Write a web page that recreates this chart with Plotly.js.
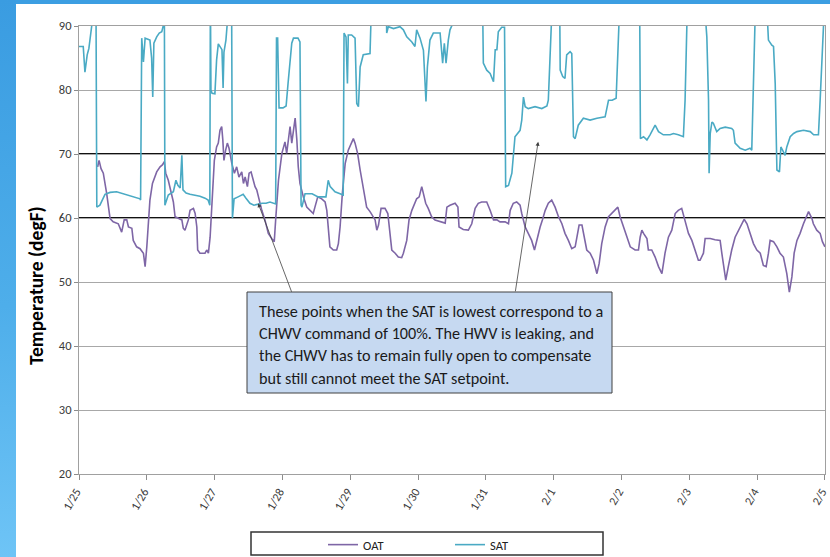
<!DOCTYPE html>
<html>
<head>
<meta charset="utf-8">
<script src="https://cdn.plot.ly/plotly-3.0.1.min.js"></script>
<style>
  html, body { margin:0; padding:0; width:830px; height:557px; overflow:hidden; background:#ffffff; }
  #topband { position:absolute; left:0; top:0; width:830px; height:4px; background:#3c9ee2; }
  #leftband { position:absolute; left:0; top:0; width:16px; height:557px; background:linear-gradient(to bottom, #3a9ce1 0%, #4eaeea 55%, #6ec4f6 100%); }
  #chart { position:absolute; left:16px; top:4px; width:814px; height:553px; }
</style>
</head>
<body>
<div id="topband"></div>
<div id="leftband"></div>
<div id="chart"></div>
<script>
// ---- data (hours since 1/25 00:00, temperature degF) ----
const tickLabels = ['1/25','1/26','1/27','1/28','1/29','1/30','1/31','2/1','2/2','2/3','2/4','2/5'];
const seriesNames = ['OAT', 'SAT'];

const oatHours = [6.6,7.1,7.8,8.6,9.8,10.4,11.0,12.1,13.9,15.1,16.0,16.9,17.5,18.7,19.2,20.4,21.6,22.8,23.4,24.0,
24.5,25.1,26.0,27.5,28.7,29.5,30.2,30.7,31.6,32.8,33.4,34.0,35.2,36.4,36.9,37.5,38.7,39.3,40.5,41.1,
41.7,42.0,42.8,44.6,45.2,45.8,46.4,47.0,47.9,48.7,49.3,49.9,50.5,50.9,51.3,51.9,52.5,53.1,53.6,54.1,
55.0,55.8,56.6,57.6,58.2,58.8,59.6,60.2,60.9,61.4,62.3,62.9,63.7,64.7,65.8,66.8,67.0,
68.2,69.1,69.6,70.6,71.8,72.9,73.5,74.3,74.7,75.3,75.9,76.5,77.1,77.6,78.2,79.4,80.6,81.8,82.9,83.5,
84.5,85.9,87.1,87.7,88.2,88.8,90.0,91.2,91.8,92.4,93.2,94.2,95.3,96.5,97.1,97.7,98.6,99.5,100.6,101.8,
103.0,104.2,104.8,105.4,106.0,106.9,108.3,109.3,110.1,110.7,111.9,113.0,114.2,114.8,116.0,116.8,117.8,118.7,119.5,120.4,
121.3,121.9,122.7,123.6,124.8,126.0,127.8,129.6,130.2,131.3,133.1,134.1,
134.5,136.0,137.8,139.0,140.2,141.3,142.5,144.3,145.5,146.7,147.9,149.0,150.8,152.0,152.6,153.7,154.9,156.1,156.7,157.9,
159.0,160.2,161.2,162.0,163.2,164.0,165.0,166.1,167.3,168.5,169.7,170.9,172.0,173.2,174.4,175.6,176.5,177.0,178.0,178.9,
179.7,180.9,182.1,183.3,184.1,185.0,186.2,187.4,188.6,189.7,190.7,191.5,192.7,193.9,195.1,196.8,198.0,198.6,199.2,
199.8,201.0,201.5,202.7,203.9,205.1,206.3,207.4,208.6,209.8,211.0,212.1,213.3,214.5,215.7,216.9,218.1,219.2,219.8,221.0,
221.6,223.4,225.1,226.9,227.5,228.3,228.9,229.8,231.0,232.2,234.0,235.4,236.4,237.5,238.7,239.9,241.1,242.2,243.2,244.0,
244.6,245.8,247.0,248.1,249.3,250.5,251.4,252.3,253.1,254.1,255.2,256.4,257.6,258.2,259.4,259.9,261.1,262.3,263.1,264.0];

const oatTemps = [68.0,69.0,67.7,67.0,63.8,61.7,59.9,59.4,59.1,57.8,59.7,59.7,58.6,58.4,56.5,55.5,55.2,54.5,52.4,55.5,
58.6,62.8,65.4,67.2,68.0,68.3,68.8,67.0,65.9,63.8,62.5,60.2,59.9,59.7,58.4,58.1,59.7,61.2,61.5,60.7,
58.6,55.0,54.5,54.5,55.0,54.5,57.0,61.7,69.0,71.1,71.7,73.7,74.3,72.2,69.0,70.6,71.7,70.9,69.6,68.5,
67.0,68.0,66.4,67.2,65.4,66.4,64.9,67.0,67.2,66.4,64.9,64.4,62.8,61.2,59.7,58.1,57.6,
56.8,56.3,59.7,65.9,70.1,71.9,70.1,73.0,74.3,71.7,73.7,75.6,72.2,68.0,65.4,63.3,61.7,61.2,60.7,61.7,
63.3,63.0,62.5,61.2,58.6,55.5,55.0,55.0,56.0,58.6,63.8,68.5,70.6,71.9,72.4,71.7,70.1,67.5,64.4,61.7,
61.0,60.2,59.7,58.1,58.9,61.5,61.5,60.7,57.0,55.0,54.5,53.9,53.8,54.5,56.5,59.7,61.2,62.3,63.0,63.3,
64.9,63.8,62.3,61.5,60.2,59.7,59.4,59.2,61.7,62.0,62.3,61.7,
58.6,58.2,58.1,59.1,61.5,62.3,62.5,62.5,61.2,59.7,59.7,59.4,59.4,59.1,61.2,62.3,62.5,62.0,60.7,58.6,
57.6,56.5,55.0,56.5,58.6,59.7,61.2,62.3,62.8,61.7,60.2,59.1,57.6,56.5,55.2,55.5,58.1,58.9,58.9,57.0,
55.0,54.5,53.4,51.3,52.9,56.0,58.6,60.2,60.7,61.2,61.7,60.2,58.6,57.0,55.5,55.0,55.0,57.0,58.1,
57.6,56.8,55.0,55.0,53.9,52.4,51.3,54.5,57.0,58.1,60.7,61.2,61.5,59.7,57.6,56.5,55.0,53.4,53.4,54.5,
56.8,56.8,56.6,56.5,54.5,51.8,50.3,52.4,55.0,57.0,58.6,59.8,59.1,57.6,56.0,55.0,54.5,52.6,52.4,54.5,
56.5,56.3,55.5,54.5,53.9,51.3,48.4,50.8,54.5,56.5,57.6,59.1,60.4,61.0,59.9,59.1,58.1,57.6,56.3,55.5];

// SAT values above 90 run off the top of the chart (clipped, as in the original)
const satHours = [0,1.5,2.1,2.9,3.5,4.5,4.8,6.0,
6.3,7.4,9.2,11.0,13.3,14.9,16.9,19.1,21.6,21.8,
22.2,22.8,23.4,25.1,25.7,26.1,26.5,27.5,28.4,29.3,29.8,30.2,
30.4,31.6,33.4,34.3,35.0,35.8,36.4,36.8,37.9,39.3,41.1,42.8,44.6,45.7,46.3,
46.5,46.7,47.1,48.1,48.7,49.3,50.1,50.6,51.0,51.3,52.0,52.4,52.7,54.0,
54.3,54.9,56.3,58.1,59.1,60.5,61.9,63.4,64.8,66.2,67.6,69.6,
69.9,70.3,70.6,70.8,72.2,73.3,74.0,75.3,75.9,77.5,78.2,
78.6,78.9,80.0,82.5,84.6,87.4,88.2,88.9,90.6,92.4,93.5,
93.8,94.5,95.0,95.3,96.5,97.7,98.3,98.9,99.5,100.6,103.0,103.4,103.6,108.7,
108.9,109.5,111.3,113.6,114.8,116.0,117.8,118.9,119.5,120.7,121.9,122.8,123.3,124.2,125.4,127.8,128.7,129.3,129.9,130.7,131.3,131.9,132.2,142.8,
143.1,144.3,145.5,146.7,147.3,147.9,148.4,149.6,150.6,
151.0,152.0,153.2,153.7,154.3,156.1,156.7,157.3,157.9,159.0,161.4,163.8,165.6,166.1,166.7,167.3,167.6,170.1,
170.3,171.2,172.0,172.6,173.8,174.4,175.0,175.6,176.7,178.5,180.9,183.3,186.2,187.4,188.7,190.1,190.6,191.3,191.5,198.4,
198.7,199.8,201.0,202.1,203.9,205.1,206.8,209.2,210.4,212.1,213.9,214.5,215.1,215.4,221.1,
222.2,222.8,223.0,223.4,224.0,224.5,225.7,226.9,228.7,231.0,231.6,232.2,234.0,235.8,237.5,238.1,238.7,239.3,239.5,243.2,
244.0,245.2,245.8,246.4,247.0,247.9,248.4,249.0,249.9,250.5,251.7,252.9,254.1,256.4,258.8,260.0,261.7,262.3,263.3,264.0];

const satTemps = [86.8,86.8,82.8,85.5,86.5,90.0,95,95,
61.7,62.0,63.7,64.0,64.1,63.9,63.6,63.3,63.0,62.8,
88.1,84.4,88.1,87.8,85.0,78.9,87.3,88.3,88.9,89.1,90.0,95,
62.0,63.6,64.1,65.9,65.1,64.7,69.8,64.4,63.9,63.7,63.6,63.4,63.1,62.8,62.0,
95,80.0,79.5,79.4,84.7,87.2,86.6,86.3,80.3,85.9,87.8,90.0,95,95,
60.0,63.0,63.3,63.7,63.1,62.3,62.0,62.2,62.3,62.3,62.5,62.2,
88.1,88.1,79.2,77.2,77.2,77.5,81.1,87.3,88.1,88.1,87.5,
62.0,61.7,63.8,63.8,63.3,63.3,65.9,64.9,64.1,63.8,63.6,
88.9,88.3,81.0,88.6,88.6,88.1,77.9,77.4,83.6,85.5,85.7,89.9,95,95,
88.9,89.9,89.6,89.9,89.4,88.3,87.5,86.8,89.4,88.1,86.2,78.2,83.6,87.8,88.9,88.9,84.2,87.3,84.2,87.8,89.4,90.0,95,95,
84.2,83.1,82.6,81.3,86.3,86.3,89.1,89.8,89.8,
64.9,65.1,67.0,69.6,72.7,73.7,75.3,78.9,77.4,77.1,77.4,77.1,77.5,78.4,85.7,90.0,95,95,
83.1,82.1,81.8,85.5,86.0,85.7,72.7,72.4,74.5,75.6,75.3,75.6,75.8,78.4,78.4,78.7,83.6,90.0,95,95,
72.4,72.7,72.2,73.0,74.5,73.5,73.0,73.0,73.2,73.0,72.7,78.4,90.0,95,95,
88.3,78.4,67.0,73.2,75.0,74.8,73.5,74.0,74.2,74.0,73.7,71.7,70.9,70.6,70.9,70.6,80.0,90.0,95,95,
87.8,87.0,86.8,81.0,67.5,67.2,71.1,70.6,69.8,71.1,72.7,73.2,73.5,73.7,73.5,73.0,73.0,78.4,90.0,95];

const noteLines = [
  'These points when the SAT is lowest correspond to a',
  'CHWV command of 100%. The HWV is leaking, and',
  'the CHWV has to remain fully open to compensate',
  'but still cannot meet the SAT setpoint.'
];

// ---- helpers ----
const BASE = Date.UTC(2014, 0, 25);
function hToDate(h) {
  return new Date(BASE + h * 3600000).toISOString().slice(0, 19).replace('T', ' ');
}
const tickVals = tickLabels.map((_, i) => hToDate(i * 24));

const plotL = 79, plotR = 825, plotT = 26, plotB = 474; // page px of plot area
const px = X => (X - plotL) / (plotR - plotL);
const py = Y => (plotB - Y) / (plotB - plotT);
const cy = Y => 1 - (Y - 4) / 553; // container fraction (chart div starts at page y=4)

const baseFamily = 'Carlito, Calibri, Liberation Sans, Arial, sans-serif';
const tickFont = { family: baseFamily, size: 12.5, color: '#3a3a3a' };
const xTickFont = { family: baseFamily, size: 12, color: '#3a3a3a' };
const noteFont = { family: baseFamily, size: 16.2, color: '#1a1a1a' };

const traces = [
  { x: oatHours.map(hToDate), y: oatTemps, name: seriesNames[0], type: 'scatter', mode: 'lines',
    line: { color: '#7e66a6', width: 1.6 } },
  { x: satHours.map(hToDate), y: satTemps, name: seriesNames[1], type: 'scatter', mode: 'lines',
    line: { color: '#4aaac4', width: 1.6 } }
];

const annotations = noteLines.map((t, i) => ({
  xref: 'paper', yref: 'paper', x: px(257), y: py(311 + i * 22.4),
  xanchor: 'left', yanchor: 'middle', showarrow: false, text: t, font: noteFont
}));
annotations.push({
  xref: 'x', yref: 'y', x: hToDate(63.4), y: 62.3, text: '', showarrow: true,
  ax: 34, ay: 90, arrowhead: 2, arrowsize: 1, arrowwidth: 0.8, arrowcolor: '#404040', standoff: 0
});
annotations.push({
  xref: 'x', yref: 'y', x: hToDate(162.5), y: 71.9, text: '', showarrow: true,
  ax: -23, ay: 151, arrowhead: 2, arrowsize: 1, arrowwidth: 0.8, arrowcolor: '#404040', standoff: 0
});
annotations.push({
  xref: 'paper', yref: 'paper', x: px(36), y: py(286), textangle: -90, showarrow: false,
  text: '<b>Temperature (degF)</b>', xanchor: 'center', yanchor: 'middle',
  font: { family: baseFamily, size: 19.5, color: '#000' }
});

const shapes = [
  { type: 'line', xref: 'paper', yref: 'y', x0: 0, x1: 1, y0: 60, y1: 60, layer: 'between', line: { color: '#111', width: 1.8 } },
  { type: 'line', xref: 'paper', yref: 'y', x0: 0, x1: 1, y0: 70, y1: 70, layer: 'between', line: { color: '#111', width: 1.8 } },
  { type: 'rect', xref: 'paper', yref: 'paper', x0: px(247), x1: px(612), y0: py(393), y1: py(292),
    fillcolor: '#c6d9f1', line: { color: '#404040', width: 1 }, layer: 'above' },
  { type: 'rect', xref: 'paper', yref: 'paper', x0: px(251), x1: px(603), y0: py(555), y1: py(532),
    fillcolor: 'rgba(0,0,0,0)', line: { color: '#333', width: 1.5 }, layer: 'above' }
];

const layout = {
  width: 814, height: 553,
  margin: { l: 63, r: 5, t: 22, b: 83 },
  paper_bgcolor: '#ffffff', plot_bgcolor: '#ffffff',
  showlegend: true,
  legend: { orientation: 'h', xref: 'container', yref: 'container',
            x: (323 - 16) / 814, xanchor: 'left', y: cy(530), yanchor: 'top',
            font: { family: baseFamily, size: 12.5, color: '#222' },
            itemwidth: 30, entrywidth: 82, bgcolor: 'rgba(0,0,0,0)', borderwidth: 0, traceorder: 'normal' },
  xaxis: {
    type: 'date', range: [tickVals[0], hToDate(264.02)], automargin: false,
    tickmode: 'array', tickvals: tickVals, ticktext: tickLabels, tickangle: -60, ticklabeloverflow: 'allow',
    ticklabelshift: -3,
    ticks: 'outside', ticklen: 5, tickcolor: '#8c8c8c', tickfont: xTickFont,
    showgrid: false, zeroline: false, showline: true, linecolor: '#a0a0a0', linewidth: 1, mirror: true
  },
  yaxis: {
    range: [20, 90], tick0: 20, dtick: 10, ticks: 'outside', ticklen: 4, tickcolor: '#8c8c8c', automargin: false,
    tickfont: tickFont, showgrid: true, gridcolor: '#a8a8a8', gridwidth: 1,
    zeroline: false, showline: true, linecolor: '#a0a0a0', linewidth: 1, mirror: true
  },
  shapes: shapes,
  annotations: annotations
};

Plotly.newPlot('chart', traces, layout, { displayModeBar: false, staticPlot: true });
</script>
</body>
</html>
